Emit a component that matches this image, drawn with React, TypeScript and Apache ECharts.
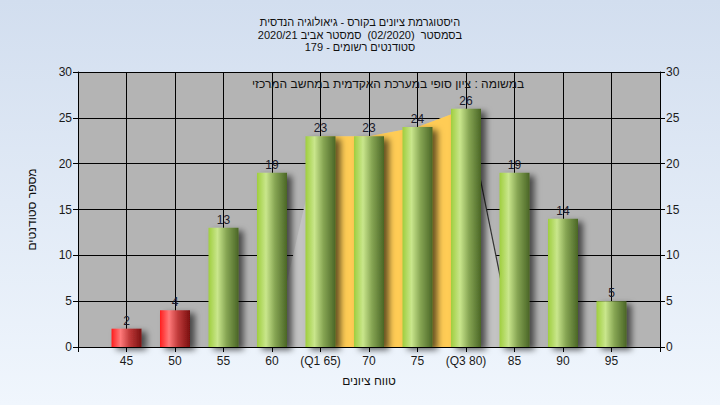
import React, { useEffect, useRef } from "react";
import * as echarts from "echarts";

const titleLines = [
  "היסטוגרמת ציונים בקורס - גיאולוגיה הנדסית",
  "בסמסטר  (02/2020)  סמסטר אביב 2020/21",
  "סטודנטים רשומים - 179",
];
const noteText = "במשומה : ציון סופי במערכת האקדמית במחשב המרכזי";
const xName = "טווח ציונים";
const yName = "מספר סטודנטים";

const scores = [45, 50, 55, 60, 65, 70, 75, 80, 85, 90, 95];
const counts = [2, 4, 13, 19, 23, 23, 24, 26, 19, 14, 5];
const passMark = 55;
const q1Score = 65;
const q3Score = 80;
const tickLabels: Record<number, string> = { 65: "(Q1 65)", 80: "(Q3 80)" };
const shapeStart = [60, 0];
const shapeEnd = [85, 0];

const FONT = "Liberation Sans, Arial, sans-serif";

export default function App() {
  const ref = useRef<HTMLDivElement>(null);
  useEffect(() => {
    if (!ref.current) return;
    const chart = echarts.init(ref.current, undefined, { renderer: "svg" });

    const quartilePts = scores
      .map((s, i) => [s, counts[i]])
      .filter((p) => p[0] >= q1Score && p[0] <= q3Score);
    const shapePts = [shapeStart, ...quartilePts, shapeEnd];
    const edgePts = [quartilePts[quartilePts.length - 1], shapeEnd];

    const green = new echarts.graphic.LinearGradient(0, 0, 1, 0, [
      { offset: 0, color: "#9fce3e" },
      { offset: 0.3, color: "#c9e68c" },
      { offset: 0.6, color: "#86a553" },
      { offset: 1, color: "#4a6626" },
    ]);
    const red = new echarts.graphic.LinearGradient(0, 0, 1, 0, [
      { offset: 0, color: "#ff1e1e" },
      { offset: 0.3, color: "#ff7a7a" },
      { offset: 0.6, color: "#c03a3a" },
      { offset: 1, color: "#7a1010" },
    ]);

    const axisText = { color: "#1a1a1a", fontSize: 12, fontFamily: FONT };

    chart.setOption({
      animation: false,
      backgroundColor: new echarts.graphic.LinearGradient(0, 0, 0, 1, [
        { offset: 0, color: "#d2deef" },
        { offset: 1, color: "#f0f6fd" },
      ]),
      title: {
        text: titleLines.join("\n"),
        left: "center",
        top: 11,
        textStyle: {
          fontSize: 11,
          fontWeight: "normal",
          lineHeight: 12.5,
          color: "#111",
          fontFamily: FONT,
        },
      },
      graphic: [
        {
          type: "text",
          left: 252,
          top: 78,
          style: { text: noteText, fontSize: 12, fill: "#111", font: "12px " + FONT },
          silent: true,
          z: 100,
        },
      ],
      grid: {
        left: 78,
        right: 60,
        top: 72,
        bottom: 58,
        show: true,
        backgroundColor: "#b4b4b4",
        borderWidth: 0,
      },
      xAxis: {
        type: "value",
        min: 40,
        max: 100,
        interval: 5,
        name: xName,
        nameLocation: "middle",
        nameGap: 28,
        nameTextStyle: { ...axisText, color: "#111" },
        axisLine: { show: true, lineStyle: { color: "#000", width: 1 } },
        axisTick: { show: true, length: 5, lineStyle: { color: "#000" } },
        splitLine: { show: true, lineStyle: { color: "#000", width: 1 } },
        axisLabel: {
          ...axisText,
          margin: 8,
          formatter: (v: number) =>
            v <= 40 || v >= 100 ? "" : tickLabels[v] ?? String(v),
        },
      },
      yAxis: [
        {
          type: "value",
          min: 0,
          max: 30,
          interval: 5,
          name: yName,
          nameLocation: "middle",
          nameRotate: 90,
          nameGap: 40,
          nameTextStyle: { ...axisText, color: "#111" },
          axisLine: { show: true, lineStyle: { color: "#000" } },
          axisTick: { show: true, length: 5, lineStyle: { color: "#000" } },
          splitLine: { show: true, lineStyle: { color: "#000", width: 1 } },
          axisLabel: { ...axisText, margin: 6 },
        },
        {
          type: "value",
          position: "right",
          min: 0,
          max: 30,
          interval: 5,
          axisLine: { show: true, lineStyle: { color: "#000" } },
          axisTick: { show: true, length: 5, lineStyle: { color: "#000" } },
          splitLine: { show: false },
          axisLabel: { ...axisText, margin: 6 },
        },
      ],
      series: [
        {
          type: "line",
          data: shapePts,
          symbol: "none",
          silent: true,
          lineStyle: { width: 0 },
          areaStyle: { color: "#c3c3c3", opacity: 1 },
          z: 1,
        },
        {
          type: "line",
          data: edgePts,
          symbol: "none",
          silent: true,
          lineStyle: { width: 1.2, color: "#333" },
          z: 1,
        },
        {
          type: "line",
          data: quartilePts,
          symbol: "none",
          silent: true,
          lineStyle: { width: 0 },
          areaStyle: { color: "#ffcc55", opacity: 1 },
          z: 1,
        },
        {
          type: "bar",
          barWidth: 30,
          z: 3,
          data: scores.map((s, i) => ({
            value: [s, counts[i]],
            itemStyle: { color: s < passMark ? red : green },
          })),
          itemStyle: {
            shadowBlur: 6,
            shadowColor: "rgba(0,0,0,0.6)",
            shadowOffsetX: 5,
            shadowOffsetY: 3,
          },
          label: {
            show: true,
            position: "top",
            distance: 2,
            ...axisText,
            color: "#1a1a2a",
            formatter: (p: any) => String(p.value[1]),
          },
        },
      ],
    });
    return () => chart.dispose();
  }, []);
  return (
    <div
      ref={ref}
      style={{ position: "fixed", left: 0, top: 0, width: 720, height: 405 }}
    />
  );
}
